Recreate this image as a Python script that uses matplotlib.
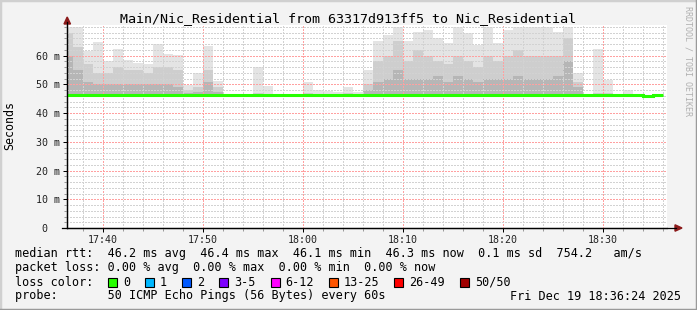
import numpy as np
import matplotlib.pyplot as plt
from matplotlib.ticker import MultipleLocator, FixedLocator
from matplotlib.patches import Polygon, Rectangle
from matplotlib.lines import Line2D

# one bin per minute, 17:36 .. 18:35 (minutes after midnight)
bin_start = np.arange(17 * 60 + 36, 18 * 60 + 36)

# smoke levels in ms (nan = no visible smoke)
nan = np.nan
smoke_top = [70.0, 70.0, 61.8, 64.8, 58.0, 62.4, 58.5, 57.6, 57.1, 64.0,
             60.6, 60.3, 49.8, 53.9, 63.4, 51.3, nan, nan, nan, 55.9,
             49.5, nan, nan, nan, 50.9, 48.1, 47.8, 47.2, 49.2, 47.5,
             55.0, 65.2, 67.2, 70.0, 65.0, 68.4, 69.0, 66.0, 64.3, 70.0,
             67.8, 63.8, 70.0, 64.3, 69.0, 70.0, 70.0, 70.0, 70.0, 68.4,
             70.0, 53.9, nan, 62.4, 51.6, nan, 48.0, nan, nan, nan]
smoke_mid = [68.0, 63.0, 57.0, 54.0, 54.0, 56.0, 55.0, 55.0, 54.0, 56.0,
             56.0, 55.0, 48.0, 49.0, 55.0, 49.0, nan, nan, nan, 47.0,
             46.8, nan, nan, nan, 47.0, nan, nan, nan, 47.0, nan,
             50.0, 58.0, 60.0, 65.0, 58.0, 62.0, 60.0, 58.0, 57.0, 60.0,
             58.0, 56.0, 60.0, 58.0, 60.0, 62.0, 60.0, 60.0, 60.0, 60.0,
             66.0, 51.0, nan, 47.0, 47.0, nan, nan, nan, nan, nan]
smoke_low = [60.0, 55.0, 51.0, 50.0, 50.0, 50.0, 50.0, 50.0, 50.0, 50.0,
             50.0, 49.0, 47.0, 47.5, 51.0, 47.5, nan, nan, nan, nan,
             nan, nan, nan, nan, nan, nan, nan, nan, nan, nan,
             48.0, 51.0, 52.0, 55.0, 52.0, 52.0, 52.0, 53.0, 51.0, 53.0,
             52.0, 51.0, 52.0, 52.0, 52.0, 53.0, 52.0, 52.0, 52.0, 53.0,
             58.0, 49.0, nan, nan, nan, nan, nan, nan, nan, nan]
median_rtt = [46.3, 46.3, 46.3, 46.3, 46.3, 46.3, 46.3, 46.3, 46.2, 46.3,
              46.3, 46.3, 46.3, 46.3, 46.3, 46.3, 46.3, 46.2, 46.3, 46.3,
              46.3, 46.3, 46.3, 46.3, 46.3, 46.3, 46.3, 46.3, 46.3, 46.3,
              46.3, 46.3, 46.3, 46.3, 46.3, 46.3, 46.3, 46.3, 46.3, 46.3,
              46.3, 46.3, 46.3, 46.3, 46.3, 46.3, 46.3, 46.3, 46.3, 46.3,
              46.3, 46.3, 46.2, 46.2, 46.2, 46.2, 46.2, 46.2, 46.1, 46.4]

x_ticks = [17 * 60 + 40, 17 * 60 + 50, 18 * 60, 18 * 60 + 10, 18 * 60 + 20, 18 * 60 + 30]
x_labels = ["17:40", "17:50", "18:00", "18:10", "18:20", "18:30"]
y_ticks = [0, 10, 20, 30, 40, 50, 60]
y_labels = ["0  ", "10 m", "20 m", "30 m", "40 m", "50 m", "60 m"]

loss_labels = ["0", "1", "2", "3-5", "6-12", "13-25", "26-49", "50/50"]
loss_colors = ["#26ff00", "#00b8ff", "#0059ff", "#7e00ff", "#ff00ff",
               "#ff5500", "#ff0000", "#a10000"]

title = "Main/Nic_Residential from 63317d913ff5 to Nic_Residential"
line_rtt = "median rtt:  46.2 ms avg  46.4 ms max  46.1 ms min  46.3 ms now  0.1 ms sd  754.2   am/s"
line_loss = "packet loss: 0.00 % avg  0.00 % max  0.00 % min  0.00 % now"
line_probe = "probe:       50 ICMP Echo Pings (56 Bytes) every 60s"
stamp = "Fri Dec 19 18:36:24 2025"

W, H = 697, 310
def fx(px):
    return px / W
def fy(py):
    return 1 - py / H

mono = "DejaVu Sans Mono"
fig = plt.figure(figsize=(W / 100, H / 100), dpi=100, facecolor="#f3f3f3")
ax = fig.add_axes([fx(67), fy(228), 600 / W, (228 - 25) / H])
ax.set_facecolor("white")

top = np.array(smoke_top)
mid = np.array(smoke_mid)
low = np.array(smoke_low)
med = np.array(median_rtt)
base = med - 0.5

# smoke, lightest first
for level, col in [(top, "#e4e4e4"), (mid, "#cecece"), (low, "#b6b6b6")]:
    ok = ~np.isnan(level)
    ax.bar(bin_start[ok], level[ok] - base[ok], bottom=base[ok], width=1,
           align="edge", color=col, linewidth=0, zorder=1)

ax.stairs(med, np.append(bin_start, bin_start[-1] + 1), baseline=None,
          color="#26ff00", linewidth=2.2, zorder=3)

ax.set_xlim(17 * 60 + 36.4, 18 * 60 + 36.4)
ax.set_ylim(0, 70.7)

ax.xaxis.set_major_locator(FixedLocator(x_ticks))
ax.xaxis.set_minor_locator(MultipleLocator(2))
ax.yaxis.set_major_locator(FixedLocator(y_ticks))
ax.yaxis.set_minor_locator(MultipleLocator(2))
ax.set_xticklabels(x_labels)
ax.set_yticklabels(y_labels)
ax.set_axisbelow(False)
ax.grid(which="major", color="#ffa0a0", linewidth=1.0, linestyle=(0, (1, 1)),
        antialiased=False)
ax.grid(which="minor", color="#d2d2d2", linewidth=1.0, linestyle=(0, (1, 1)),
        antialiased=False)
ax.tick_params(which="major", length=3, width=0.72, color="black", direction="out",
               labelsize=7.2, labelcolor="#222222", pad=2)
ax.tick_params(which="minor", length=2, width=0.72, color="#999999", direction="out")
for lab in ax.get_xticklabels() + ax.get_yticklabels():
    lab.set_fontfamily(mono)

for s in ["top", "right"]:
    ax.spines[s].set_visible(False)
for s in ["left", "bottom"]:
    ax.spines[s].set_linewidth(0.9)
    ax.spines[s].set_color("black")

# axis extensions and arrows
fig.add_artist(Line2D([fx(67), fx(67)], [fy(228), fy(22)], color="black", lw=0.9))
fig.add_artist(Line2D([fx(62), fx(676)], [fy(228), fy(228)], color="black", lw=0.9))
fig.add_artist(Polygon([[fx(64), fy(24)], [fx(70.5), fy(24)], [fx(67.2), fy(17)]],
                       closed=True, color="#8b1a1a", transform=fig.transFigure))
fig.add_artist(Polygon([[fx(675), fy(224.8)], [fx(675), fy(231.2)], [fx(682), fy(228)]],
                       closed=True, color="#8b1a1a", transform=fig.transFigure))

# frame
fig.add_artist(Line2D([0, 0], [0, 1], color="#d0d0d0", lw=2.5))
fig.add_artist(Line2D([0, 1], [1, 1], color="#d0d0d0", lw=2.5))
fig.add_artist(Line2D([1, 1], [0, 1], color="#9a9a9a", lw=2.5))
fig.add_artist(Line2D([0, 1], [0, 0], color="#9a9a9a", lw=2.5))

fig.text(0.5, fy(19), title, ha="center", va="center", fontsize=9.6, family=mono)
fig.text(fx(10), fy(126), "Seconds", rotation=90, ha="center", va="center",
         fontsize=8.4, family=mono)
fig.text(fx(688), fy(6), "RRDTOOL / TOBI OETIKER", rotation=270, ha="center", va="top",
         fontsize=6.0, family=mono, color="#b0b0b0")

fig.text(fx(15), fy(254), line_rtt, ha="left", va="center", fontsize=8.5, family=mono)
fig.text(fx(15), fy(268), line_loss, ha="left", va="center", fontsize=8.5, family=mono)
fig.text(fx(15), fy(282), "loss color:", ha="left", va="center", fontsize=8.5, family=mono)
fig.text(fx(15), fy(296), line_probe, ha="left", va="center", fontsize=8.5, family=mono)
fig.text(fx(681), fy(296), stamp, ha="right", va="center", fontsize=8.5, family=mono)

bx = 108
for lab, col in zip(loss_labels, loss_colors):
    fig.add_artist(Rectangle((fx(bx), fy(286.5)), 9 / W, 9 / H, facecolor=col,
                             edgecolor="black", linewidth=0.8, transform=fig.transFigure))
    fig.text(fx(bx + 15), fy(282), lab, ha="left", va="center", fontsize=8.5, family=mono)
    bx += 15 + 7.1 * len(lab) + 15

fig.savefig("out.png", dpi=100, facecolor=fig.get_facecolor())
